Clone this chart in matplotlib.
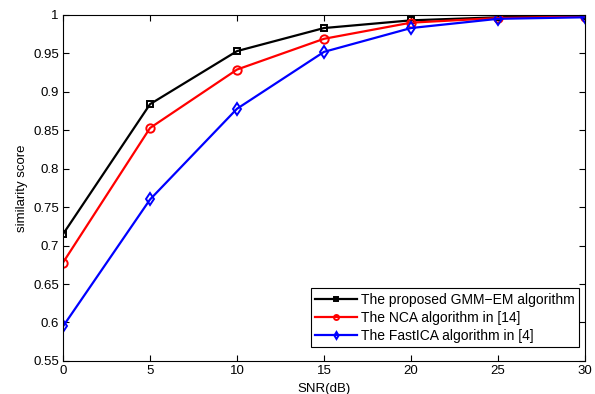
import numpy as np
import matplotlib
matplotlib.use("Agg")
import matplotlib.pyplot as plt

plt.rcParams['font.family'] = ['Liberation Sans', 'DejaVu Sans']

snr = [0, 5, 10, 15, 20, 25, 30]
gmm_em = [0.715, 0.884, 0.953, 0.983, 0.993, 0.997, 0.999]
nca = [0.678, 0.853, 0.929, 0.969, 0.990, 0.996, 0.998]
fastica = [0.595, 0.760, 0.878, 0.952, 0.983, 0.995, 0.997]

labels = ['The proposed GMM\u2212EM algorithm',
          'The NCA algorithm in [14]',
          'The FastICA algorithm in [4]']

fig = plt.figure(figsize=(5.95, 3.94), dpi=100)
ax = fig.add_axes([0.106, 0.084, 0.877, 0.878])

ax.plot(snr, gmm_em, 'k-s', lw=1.6, ms=5, mfc='none', mew=1.4, label=labels[0])
ax.plot(snr, nca, 'r-o', lw=1.6, ms=6, mfc='none', mew=1.4, label=labels[1])
ax.plot(snr, fastica, 'b-d', lw=1.6, ms=6, mfc='none', mew=1.4, label=labels[2])

ax.set_xlim(0, 30)
ax.set_ylim(0.55, 1)
ax.set_xticks(np.arange(0, 31, 5))
ax.set_yticks(np.arange(0.55, 1.001, 0.05))
ax.set_yticklabels(['0.55', '0.6', '0.65', '0.7', '0.75', '0.8', '0.85', '0.9', '0.95', '1'])
ax.tick_params(direction='in', top=True, right=True, labelsize=9.5, length=4, pad=3)
ax.set_xlabel('SNR(dB)', fontsize=9.5, labelpad=4.5)
ax.set_ylabel('similarity score', fontsize=9.5, labelpad=4)

leg = ax.legend(loc='lower right', bbox_to_anchor=(0.9885, 0.04), fontsize=10,
                fancybox=False, framealpha=1, edgecolor='k', borderaxespad=0,
                handlelength=3.0, handletextpad=0.3, labelspacing=0.3,
                borderpad=0.3, markerscale=0.6)
leg.get_frame().set_linewidth(0.8)

fig.savefig('out.png', dpi=100)
